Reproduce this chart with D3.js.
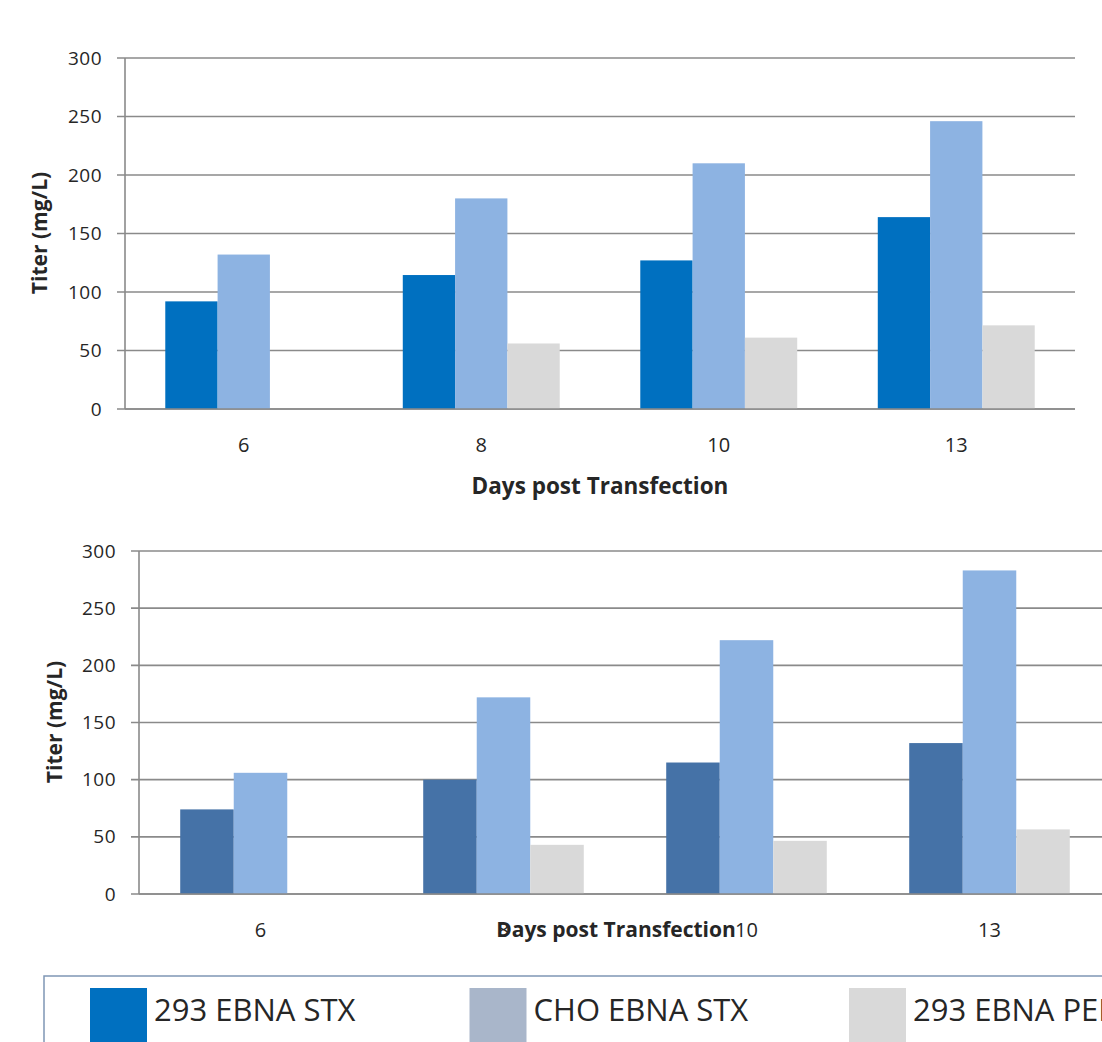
<!DOCTYPE html>
<html>
<head>
<meta charset="utf-8">
<script src="https://cdn.jsdelivr.net/npm/d3@7"></script>
<style>
  body { margin: 0; background: #fff; }
  svg { display: block; }
  text { font-family: "Open Sans", Arial, sans-serif; fill: #262626; }
</style>
</head>
<body>
<div id="graph"></div>
<script>
// data
const days = ["6", "8", "10", "13"];
const series = ["293 EBNA STX", "CHO EBNA STX", "293 EBNA PEI"];
const yTicks = [0, 50, 100, 150, 200, 250, 300];

const topStx293 = [92, 114.5, 127, 164];
const topStxCho = [132, 180, 210, 246];
const topPei293 = [null, 56, 61, 71.5];

const botStx293 = [74, 100, 115, 132];
const botStxCho = [106, 172, 222, 283];
const botPei293 = [null, 43, 46.5, 56.5];

const legendColors = ["#0070C0", "#A9B6CA", "#D9D9D9"];

let svg = d3.select('div#graph').append('svg')
  .attr('width', 1102)
  .attr('height', 1042);

function drawChart(opt) {
  let x = d3.scaleBand().domain(days).range([opt.left, opt.right]);
  let inner = d3.scaleBand().domain(series).range([0, x.bandwidth()]).paddingOuter(0.77);
  let y = d3.scaleLinear().domain([0, 300]).range([opt.bottom, opt.top]);
  let g = svg.append('g');

  // gridlines
  g.selectAll('line.grid')
    .data(yTicks)
    .enter()
    .append('line')
    .attr('x1', opt.left - 8)
    .attr('x2', opt.gridEnd)
    .attr('y1', d => y(d))
    .attr('y2', d => y(d))
    .attr('stroke', '#8a8a8a')
    .attr('stroke-width', 1.6);

  // y axis line
  g.append('line')
    .attr('x1', opt.left).attr('x2', opt.left)
    .attr('y1', y(300)).attr('y2', y(0))
    .attr('stroke', '#8a8a8a')
    .attr('stroke-width', 1.6);

  g.selectAll('text.ytick')
    .data(yTicks)
    .enter()
    .append('text')
    .attr('x', opt.left - 23)
    .attr('y', d => y(d))
    .attr('dy', '0.35em')
    .attr('text-anchor', 'end')
    .style('font-size', '19px')
    .style('letter-spacing', '0.5px')
    .text(d => d);

  let rows = days.map((d, i) => ({ day: d, vals: opt.values.map(v => v[i]) }));
  let grp = g.selectAll('g.day')
    .data(rows)
    .enter()
    .append('g')
    .attr('transform', d => 'translate(' + x(d.day) + ',0)');
  grp.selectAll('rect')
    .data(d => d.vals.map((v, j) => ({ s: series[j], v: v, j: j })).filter(e => e.v != null))
    .enter()
    .append('rect')
    .attr('x', d => inner(d.s) - (inner.step() - inner.bandwidth()) / 2)
    .attr('width', inner.step())
    .attr('y', d => y(d.v))
    .attr('height', d => y(0) - y(d.v))
    .attr('fill', d => opt.colors[d.j]);

  // redraw baseline over bars
  g.append('line')
    .attr('x1', opt.left).attr('x2', opt.gridEnd)
    .attr('y1', y(0)).attr('y2', y(0))
    .attr('stroke', '#8a8a8a')
    .attr('stroke-width', 1.6);

  g.selectAll('text.xtick')
    .data(days)
    .enter()
    .append('text')
    .attr('x', d => x(d) + x.bandwidth() / 2)
    .attr('y', opt.bottom + 36)
    .attr('dy', '0.35em')
    .attr('text-anchor', 'middle')
    .style('font-size', '20px')
    .text(d => d);

  g.append('text')
    .attr('transform', 'translate(' + opt.yTitleX + ',' + opt.yTitleY + ') rotate(-90)')
    .attr('text-anchor', 'middle')
    .attr('dy', '0.35em')
    .style('font-size', '21px')
    .style('font-weight', 'bold')
    .text('Titer (mg/L)');

  g.append('text')
    .attr('x', opt.xTitleX)
    .attr('y', opt.xTitleY)
    .attr('dy', '0.35em')
    .attr('text-anchor', 'middle')
    .style('font-size', opt.xTitleSize)
    .style('font-weight', 'bold')
    .text('Days post Transfection');
}

drawChart({
  left: 125, right: 1075, gridEnd: 1075, top: 58, bottom: 409,
  values: [topStx293, topStxCho, topPei293],
  colors: ["#0070C0", "#8DB3E2", "#D9D9D9"],
  yTitleX: 40, yTitleY: 233, xTitleX: 600, xTitleY: 486, xTitleSize: '22.5px'
});

drawChart({
  left: 139, right: 1111, gridEnd: 1111, top: 551, bottom: 894,
  values: [botStx293, botStxCho, botPei293],
  colors: ["#4572A7", "#8DB3E2", "#D9D9D9"],
  yTitleX: 55, yTitleY: 722, xTitleX: 616, xTitleY: 930, xTitleSize: '21px'
});

// legend
svg.append('rect')
  .attr('x', 44).attr('y', 976)
  .attr('width', 1100).attr('height', 80)
  .attr('fill', 'none')
  .attr('stroke', '#7f97b5')
  .attr('stroke-width', 1.5);

let lg = svg.selectAll('g.legend')
  .data(series)
  .enter()
  .append('g')
  .attr('transform', (d, i) => 'translate(' + (90 + i * 379.5) + ',988)');
lg.append('rect')
  .attr('width', 57)
  .attr('height', 60)
  .attr('fill', (d, i) => legendColors[i]);
lg.append('text')
  .attr('x', 64)
  .attr('y', 22)
  .attr('dy', '0.35em')
  .style('font-size', '31px')
  .text(d => d);
</script>
</body>
</html>
